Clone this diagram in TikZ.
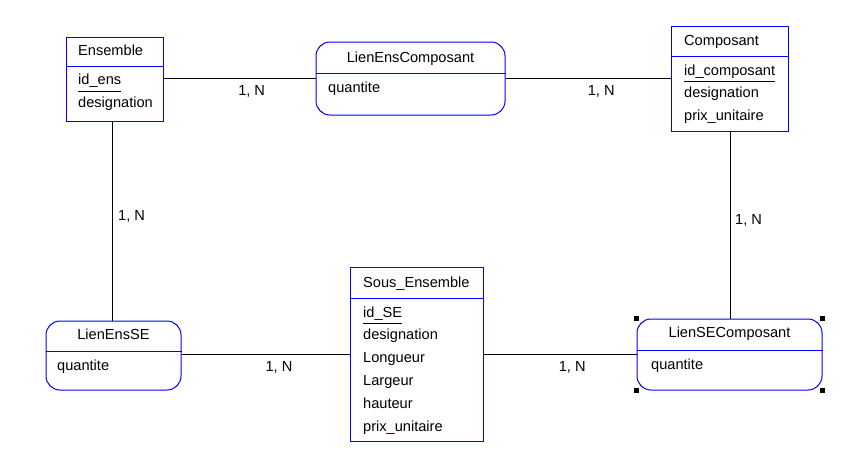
\documentclass[tikz,border=0pt]{standalone}
\usepackage{fontspec}
\setmainfont{Liberation Sans}
\usepackage{xcolor}
\usetikzlibrary{positioning}

\begin{document}
\begin{tikzpicture}[x=1pt, y=-1pt, node distance=9.5pt,
        font=\fontsize{14.6}{17}\selectfont,
        entity/.style={draw=blue, line width=1pt, inner sep=0pt},
        relation/.style={draw=blue, line width=1pt, inner sep=0pt, rounded corners=14pt},
        attr/.style={inner sep=0pt, text height=10pt, text depth=3pt, anchor=west},
        card/.style={inner sep=0pt, text height=10pt, text depth=3pt},
        handle/.style={fill=black, inner sep=0pt, minimum size=5pt}]
        \path[use as bounding box, fill=white] (0,0) rectangle (865,455);

        % Entities
        \node (ens) [entity, minimum width=97pt, minimum height=84pt] at (114.5,79) {};
        \node (comp) [entity, minimum width=117pt, minimum height=105pt] at (729.5,78.5) {};
        \node (sous) [entity, minimum width=133pt, minimum height=174pt] at (416.5,354.5) {};

        % Relations
        \node (lec) [relation, minimum width=189pt, minimum height=73pt] at (410.5,78.5) {};
        \node (lese) [relation, minimum width=135pt, minimum height=69pt] at (113.5,355.5) {};
        \node (lsc) [relation, minimum width=185pt, minimum height=71pt] at (729.5,354.5) {};

        % Separators
        \draw[blue, line width=1pt] (ens.west |- 0,66) -- (ens.east |- 0,66);
        \draw[blue, line width=1pt] (comp.west |- 0,56) -- (comp.east |- 0,56);
        \draw[blue, line width=1pt] (sous.west |- 0,298) -- (sous.east |- 0,298);
        \draw[blue, line width=1pt] (lec.west |- 0,73) -- (lec.east |- 0,73);
        \draw[blue, line width=1pt] (lese.west |- 0,351) -- (lese.east |- 0,351);
        \draw[blue, line width=1pt] (lsc.west |- 0,350) -- (lsc.east |- 0,350);

        % Ensemble
        \node (ens-t) [attr] at (78,51.5) {Ensemble};
        \node (ens-id) [attr] at (78,81) {id\_ens};
        \node (ens-a1) [attr, below=of ens-id.south west, anchor=north west] {designation};
        \draw ([yshift=-3pt]ens-id.south west) -- ([yshift=-3pt]ens-id.south east);

        % Composant
        \node (comp-t) [attr] at (684,41.5) {Composant};
        \node (comp-id) [attr] at (684,71.5) {id\_composant};
        \node (comp-a1) [attr, below=of comp-id.south west, anchor=north west] {designation};
        \node (comp-a2) [attr, below=of comp-a1.south west, anchor=north west] {prix\_unitaire};
        \draw ([yshift=-3pt]comp-id.south west) -- ([yshift=-3pt]comp-id.south east);

        % Sous_Ensemble
        \node (sous-t) [attr] at (363,283.5) {Sous\_Ensemble};
        \node (sous-id) [attr] at (363,313.5) {id\_SE};
        \node (sous-a1) [attr, below=of sous-id.south west, anchor=north west] {designation};
        \node (sous-a2) [attr, below=of sous-a1.south west, anchor=north west] {Longueur};
        \node (sous-a3) [attr, below=of sous-a2.south west, anchor=north west] {Largeur};
        \node (sous-a4) [attr, below=of sous-a3.south west, anchor=north west] {hauteur};
        \node (sous-a5) [attr, below=of sous-a4.south west, anchor=north west] {prix\_unitaire};
        \draw ([yshift=-3pt]sous-id.south west) -- ([yshift=-3pt]sous-id.south east);

        % Relation texts
        \node (lec-t) [card] at (410.5,58.5) {LienEnsComposant};
        \node (lec-a1) [attr] at (328,88.5) {quantite};
        \node (lese-t) [card] at (113.5,335.5) {LienEnsSE};
        \node (lese-a1) [attr] at (57,366.5) {quantite};
        \node (lsc-t) [card] at (729.5,333.5) {LienSEComposant};
        \node (lsc-a1) [attr] at (651,365.5) {quantite};

        % Selection handles
        \foreach \a/\n in {north west/1, north east/2, south west/3, south east/4}
            \node (h\n) [handle] at (lsc.\a) {};

        % Links
        \draw (ens.east |- lec.west) -- node[card, pos=0.58, below=7pt] (c1) {1, N} (lec.west);
        \draw (lec.east) -- node[card, pos=0.58, below=7pt] (c2) {1, N} (lec.east -| comp.west);
        \draw (lese.north -| 112,0) -- node[card, pos=0.52, right=6pt] (c3) {1, N} (ens.south -| 112,0);
        \draw (lsc.north -| 730,0) -- node[card, pos=0.52, right=5pt] (c4) {1, N} (comp.south -| 730,0);
        \draw (lese.east |- sous.west) -- node[card, pos=0.58, below=7pt] (c5) {1, N} (sous.west);
        \draw (sous.east) -- node[card, pos=0.58, below=7pt] (c6) {1, N} (sous.east -| lsc.west);

    \end{tikzpicture}
\end{document}
